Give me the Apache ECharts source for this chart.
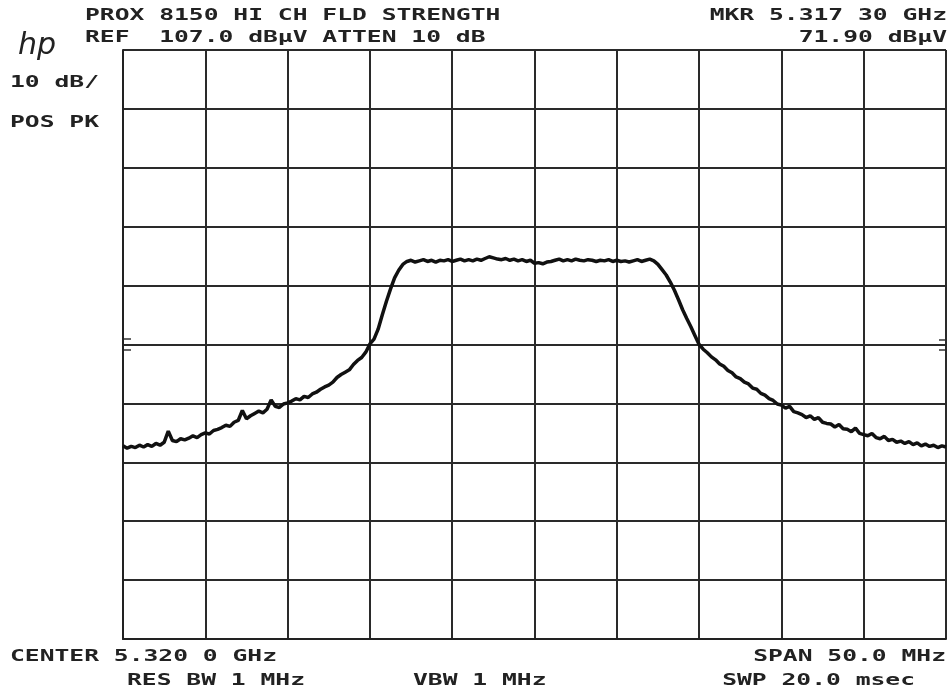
<!DOCTYPE html>
<html>
<head>
<meta charset="utf-8">
<script src="https://cdn.jsdelivr.net/npm/echarts@6/dist/echarts.min.js"></script>
<style>
  html, body { margin: 0; padding: 0; background: #fff; }
  #chart { width: 950px; height: 692px; }
</style>
</head>
<body>
<div id="chart"></div>
<script>
// sweep: 5295 .. 5345 MHz, one reading every 0.25 MHz
var startMHz = 5295;
var stepMHz = 0.25;
var freqTicks = [5295, 5300, 5305, 5310, 5315, 5320, 5325, 5330, 5335, 5340, 5345];
var levelTicks = [7, 17, 27, 37, 47, 57, 67, 77, 87, 97, 107];

// trace level in dBuV
var levels = [
  39.8, 39.4, 39.7, 39.5,
  39.9, 39.6, 40.0, 39.7,
  40.2, 39.9, 40.4, 42.3,
  40.7, 40.5, 41.0, 40.8,
  41.1, 41.5, 41.2, 41.7,
  42.0, 41.8, 42.4, 42.6,
  42.9, 43.3, 43.1, 43.8,
  44.1, 45.8, 44.4, 44.9,
  45.3, 45.7, 45.4, 46.0,
  47.6, 46.5, 46.3, 46.9,
  47.1, 47.4, 47.8, 47.6,
  48.2, 48.0, 48.6, 48.9,
  49.4, 49.8, 50.1, 50.6,
  51.4, 51.9, 52.3, 52.7,
  53.6, 54.3, 54.8, 55.7,
  57.1, 57.9, 59.6, 62.0,
  64.3, 66.4, 68.3, 69.6,
  70.6, 71.1, 71.3, 71.0,
  71.2, 71.4, 71.1, 71.3,
  71.0, 71.3, 71.2, 71.4,
  71.1, 71.3, 71.5, 71.2,
  71.4, 71.2, 71.5, 71.3,
  71.6, 71.9, 71.7, 71.5,
  71.4, 71.6, 71.3, 71.5,
  71.2, 71.4, 71.1, 71.3,
  70.8, 70.9, 70.7, 71.0,
  71.1, 71.3, 71.5, 71.2,
  71.4, 71.2, 71.5, 71.3,
  71.2, 71.4, 71.3, 71.1,
  71.3, 71.2, 71.4, 71.1,
  71.3, 71.1, 71.2, 71.0,
  71.2, 71.4, 71.1, 71.3,
  71.5, 71.2, 70.6, 69.7,
  68.8, 67.6, 66.2, 64.6,
  62.9, 61.4, 60.0, 58.5,
  57.0, 56.2, 55.6, 54.9,
  54.4, 53.7, 53.3, 52.6,
  52.2, 51.5, 51.2, 50.6,
  50.3, 49.6, 49.4, 48.7,
  48.4, 47.8, 47.5, 46.9,
  46.7, 46.2, 46.5, 45.6,
  45.4, 45.1, 44.6, 44.9,
  44.3, 44.6, 43.8, 43.6,
  43.5, 43.0, 43.4, 42.7,
  42.6, 42.2, 42.8, 41.9,
  41.7, 41.5, 41.9, 41.2,
  41.0, 41.4, 40.7, 40.9,
  40.4, 40.6, 40.2, 40.5,
  40.0, 40.3, 39.8, 40.1,
  39.7, 39.9, 39.5, 39.8,
  39.6
];

var headerLeft = ['PROX 8150 HI CH FLD STRENGTH', 'REF  107.0 dB\u00b5V ATTEN 10 dB'];
var headerRight = ['MKR 5.317 30 GHz', '71.90 dB\u00b5V'];
var sideNotes = ['10 dB/', 'POS PK'];
var footLeft = ['CENTER 5.320 0 GHz', 'RES BW 1 MHz', 'VBW 1 MHz'];
var footRight = ['SPAN 50.0 MHz', 'SWP 20.0 msec'];

var data = levels.map(function (v, i) { return [startMHz + i * stepMHz, v]; });

var FONT = 'bold 16px "DejaVu Sans Mono", "Liberation Mono", monospace';
var SX = 1.54;
function label(text, x, y, align) {
  return {
    type: 'text', x: x, y: y, scaleX: SX,
    style: { text: text, font: FONT, fill: '#222', align: align || 'left', verticalAlign: 'middle' }
  };
}
function dash(x1, x2, y) {
  return { type: 'line', shape: { x1: x1, y1: y, x2: x2, y2: y }, style: { stroke: '#333', lineWidth: 1.5 } };
}

var chart = echarts.init(document.getElementById('chart'), null, { renderer: 'canvas' });
chart.setOption({
  animation: false,
  backgroundColor: '#fff',
  grid: { left: 123, top: 50, width: 823, height: 589 },
  xAxis: {
    type: 'value',
    min: freqTicks[0],
    max: freqTicks[freqTicks.length - 1],
    interval: freqTicks[1] - freqTicks[0],
    axisLine: { show: true, lineStyle: { color: '#222', width: 2 } },
    axisTick: { show: false },
    axisLabel: { show: false },
    splitLine: { show: true, lineStyle: { color: '#2a2a2a', width: 2 } }
  },
  yAxis: {
    type: 'value',
    min: levelTicks[0],
    max: levelTicks[levelTicks.length - 1],
    interval: levelTicks[1] - levelTicks[0],
    axisLine: { show: true, lineStyle: { color: '#222', width: 2 } },
    axisTick: { show: false },
    axisLabel: { show: false },
    splitLine: { show: true, lineStyle: { color: '#2a2a2a', width: 2 } }
  },
  series: [{
    type: 'line',
    data: data,
    showSymbol: false,
    lineStyle: { color: '#111', width: 3.5 },
    z: 5
  }],
  graphic: [
    {
      type: 'text', x: 18, y: 46,
      style: { text: 'hp', font: 'italic 30px "DejaVu Sans", sans-serif', fill: '#222', verticalAlign: 'middle' }
    },
    label(headerLeft[0], 85, 16),
    label(headerLeft[1], 85, 38),
    label(headerRight[0], 947, 16, 'right'),
    label(headerRight[1], 947, 38, 'right'),
    label(sideNotes[0], 10, 83),
    label(sideNotes[1], 10, 123),
    label(footLeft[0], 10, 657),
    label(footLeft[1], 127, 681),
    label(footLeft[2], 413, 681),
    label(footRight[0], 946, 657, 'right'),
    label(footRight[1], 915, 681, 'right'),
    dash(123, 131, 339),
    dash(123, 131, 350),
    dash(939, 946, 340),
    dash(939, 946, 350)
  ]
});
</script>
</body>
</html>
